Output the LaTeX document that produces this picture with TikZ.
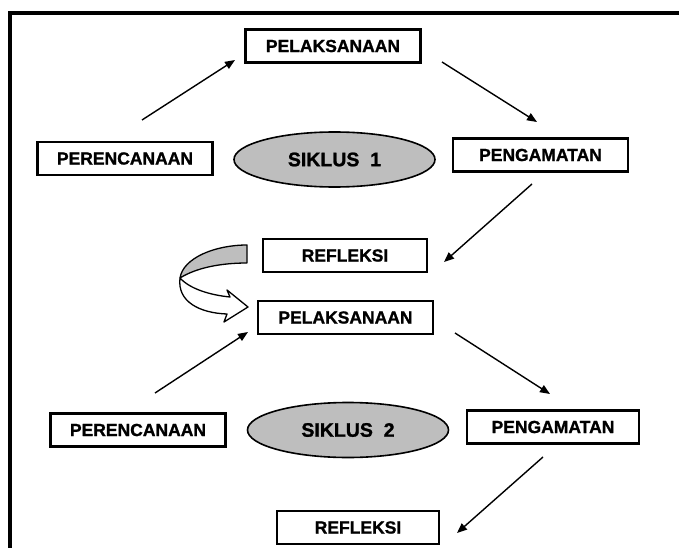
\documentclass[tikz,border=0pt]{standalone}
\usepackage{fontspec}
\setmainfont{Liberation Sans}[BoldFeatures={FakeBold=1.2}]
\usetikzlibrary{arrows.meta,shapes.geometric}
\definecolor{ovalgray}{RGB}{190,190,190}
\tikzset{
  stepbox/.style={draw, line width=2.1pt, minimum width=175pt, minimum height=33pt,
    inner sep=0pt, font=\bfseries\fontsize{17.5}{17.5}\selectfont},
  cyclebox/.style={ellipse, draw, fill=ovalgray, line width=1.6pt, minimum width=201pt,
    minimum height=55pt, inner sep=0pt, font=\bfseries\fontsize{19.5}{19.5}\selectfont},
  flow/.style={line width=1.4pt, -{Triangle[length=10pt,width=8pt]}}
}
\begin{document}
\begin{tikzpicture}[x=1pt,y=-1pt]
    \useasboundingbox (0,0) rectangle (679,548);

    % Frame (open to the right and bottom)
    \draw[line width=4pt] (10,548) -- (10,13) -- (679,13);

    % Cycle 1
    \node[stepbox] (pel1) at (333,46) {PELAKSANAAN};
    \node[stepbox] (ren1) at (125,158.5) {PERENCANAAN};
    \node[cyclebox] (sik1) at (334.5,159.5) {SIKLUS\ \ 1};
    \node[stepbox] (pen1) at (540.5,155) {PENGAMATAN};
    \node[stepbox, minimum width=164pt] (ref1) at (345,255.5) {REFLEKSI};

    % Cycle 2
    \node[stepbox] (pel2) at (345.5,317.5) {PELAKSANAAN};
    \node[stepbox] (ren2) at (138,430) {PERENCANAAN};
    \node[cyclebox] (sik2) at (348,430) {SIKLUS\ \ 2};
    \node[stepbox, minimum width=172pt] (pen2) at (553,427) {PENGAMATAN};
    \node[stepbox, minimum width=162pt] (ref2) at (358,527.5) {REFLEKSI};

    % Arrow end points
    \coordinate (a1s) at (142,120);  \coordinate (a1e) at (235,60);
    \coordinate (a2s) at (442,62);   \coordinate (a2e) at (537,122);
    \coordinate (a3s) at (532,184);  \coordinate (a3e) at (444,262);
    \coordinate (a4s) at (155,393);  \coordinate (a4e) at (248,332);
    \coordinate (a5s) at (455,333);  \coordinate (a5e) at (550,394);
    \coordinate (a6s) at (543,457);  \coordinate (a6e) at (457,533);

    \draw[flow] (a1s) -- (a1e);
    \draw[flow] (a2s) -- (a2e);
    \draw[flow] (a3s) -- (a3e);
    \draw[flow] (a4s) -- (a4e);
    \draw[flow] (a5s) -- (a5e);
    \draw[flow] (a6s) -- (a6e);

    % Curved block arrow from cycle 1 to cycle 2
    \draw[line width=1.3pt, fill=white, line join=round]
        (180,278) .. controls (190,289) and (210,295) .. (230,297)
        -- (227,290) -- (248,307) -- (224,322) -- (227,314)
        .. controls (200,313) and (177,302) .. (180,278) -- cycle;
    \draw[line width=1.3pt, fill=ovalgray, line join=round]
        (247,245) .. controls (215,245) and (183,258) .. (180,278)
        .. controls (196,268) and (220,263) .. (247,263) -- cycle;
\end{tikzpicture}
\end{document}
